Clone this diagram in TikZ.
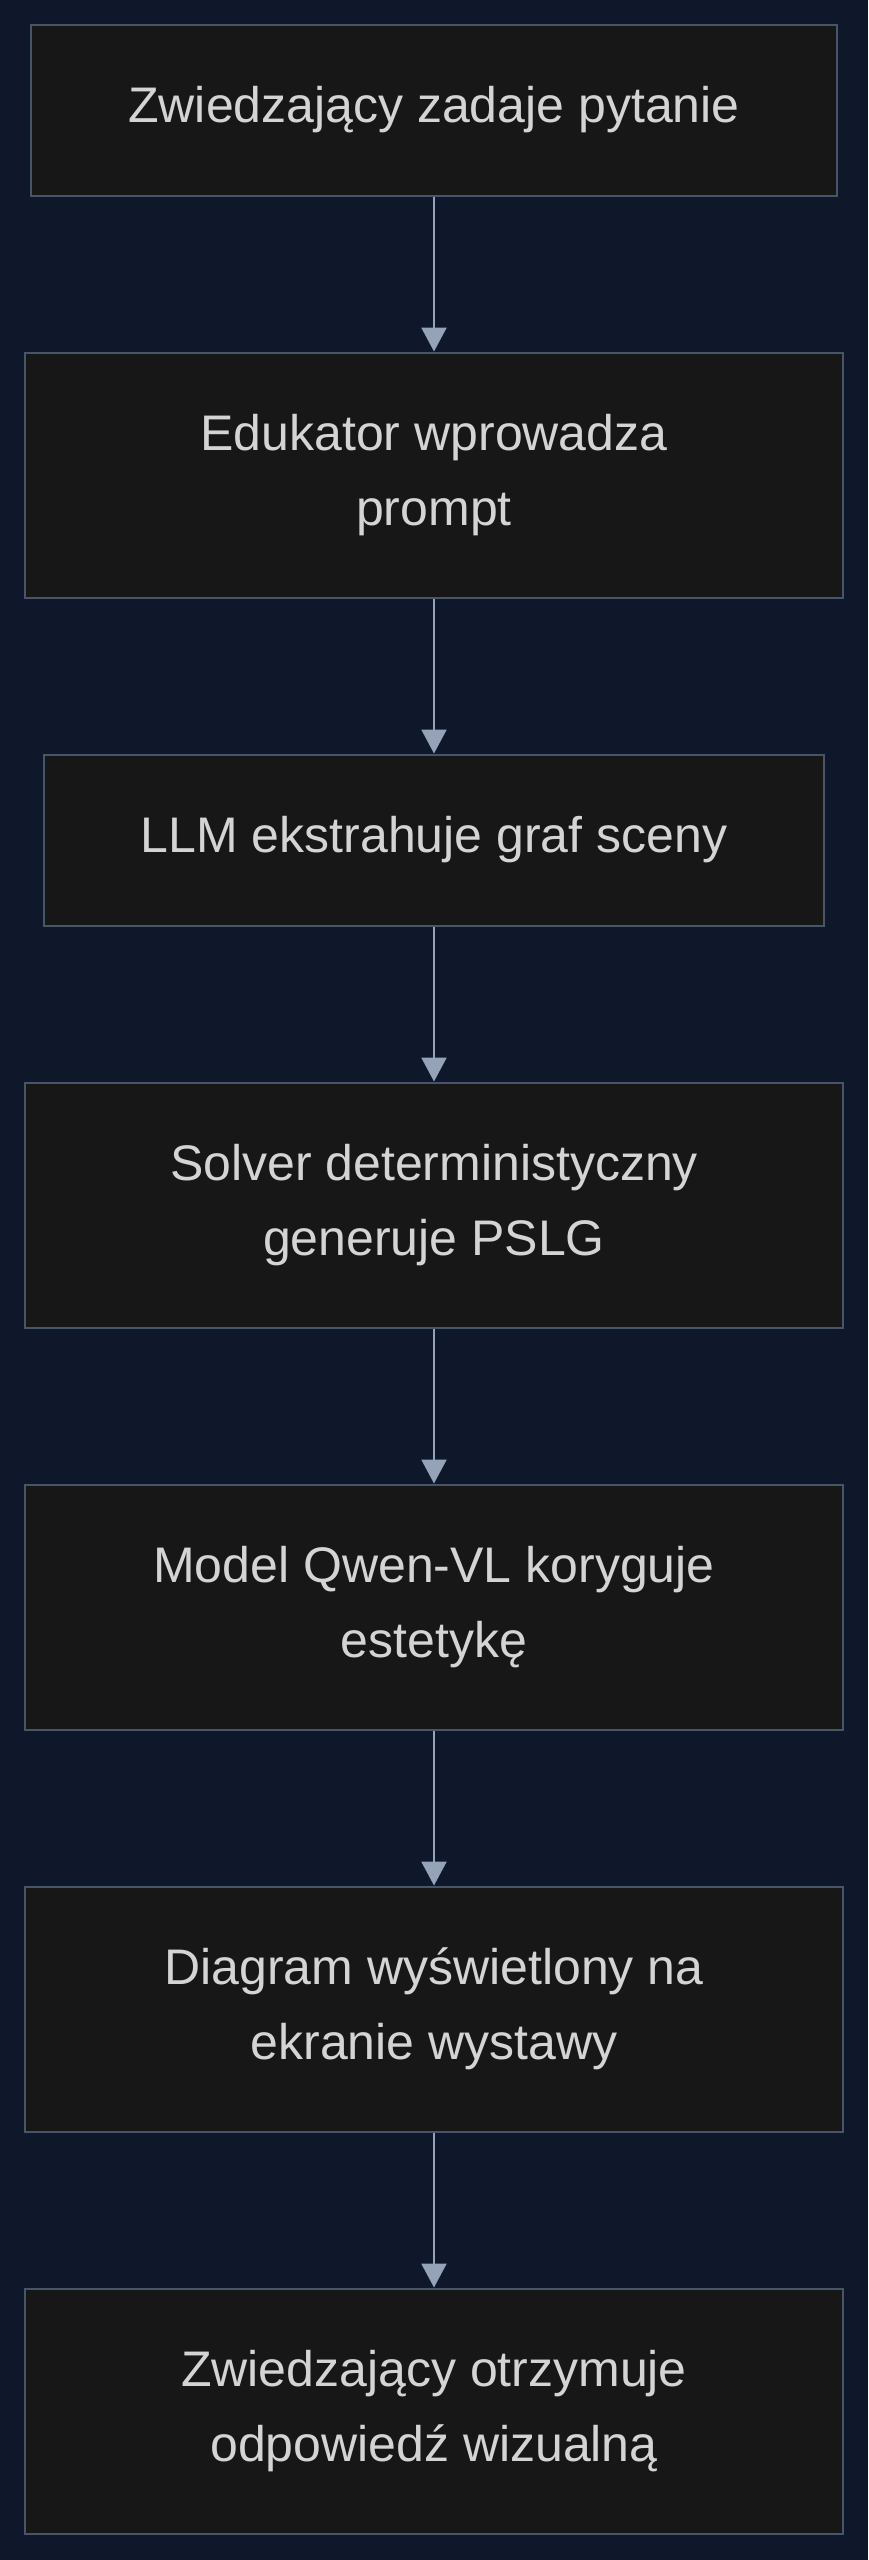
\documentclass[tikz,border=0pt]{standalone}
\usepackage{fontspec}
\setmainfont{Liberation Sans}
\usepackage{tikz}
\usetikzlibrary{arrows.meta,positioning}
\definecolor{pagenavy}{HTML}{0F172A}
\definecolor{boxfill}{HTML}{171717}
\definecolor{boxline}{HTML}{475569}
\definecolor{flowgrey}{HTML}{94A3B8}
\definecolor{labelgrey}{HTML}{D4D4D4}

\begin{document}
\begin{tikzpicture}[>={Triangle[width=12.5pt,length=12pt]},node distance=77.5pt,
  stage/.style={draw=boxline,line width=1pt,fill=boxfill,align=center,
                text=labelgrey,minimum width=409pt,minimum height=122.5pt,
                font=\fontsize{25pt}{37.5pt}\selectfont},
  flow/.style={->,draw=flowgrey,line width=1.2pt}]
\fill[pagenavy] (0,0) rectangle (434pt,-1280pt);
\useasboundingbox (0,0) rectangle (434pt,-1280pt);
\node[stage,minimum width=403pt,minimum height=85.5pt] (ask) at (217pt,-55pt) {Zwiedzający zadaje pytanie};
\node[stage,below=of ask] (prompt) {Edukator wprowadza\\prompt};
\node[stage,below=of prompt,minimum width=390pt,minimum height=85.5pt] (llm) {LLM ekstrahuje graf sceny};
\node[stage,below=of llm] (solver) {Solver deterministyczny\\generuje PSLG};
\node[stage,below=of solver] (qwen) {Model Qwen-VL koryguje\\estetykę};
\node[stage,below=of qwen] (screen) {Diagram wyświetlony na\\ekranie wystawy};
\node[stage,below=of screen] (answer) {Zwiedzający otrzymuje\\odpowiedź wizualną};
\draw[flow] (ask)--(prompt);
\draw[flow] (prompt)--(llm);
\draw[flow] (llm)--(solver);
\draw[flow] (solver)--(qwen);
\draw[flow] (qwen)--(screen);
\draw[flow] (screen)--(answer);
\end{tikzpicture}
\end{document}
